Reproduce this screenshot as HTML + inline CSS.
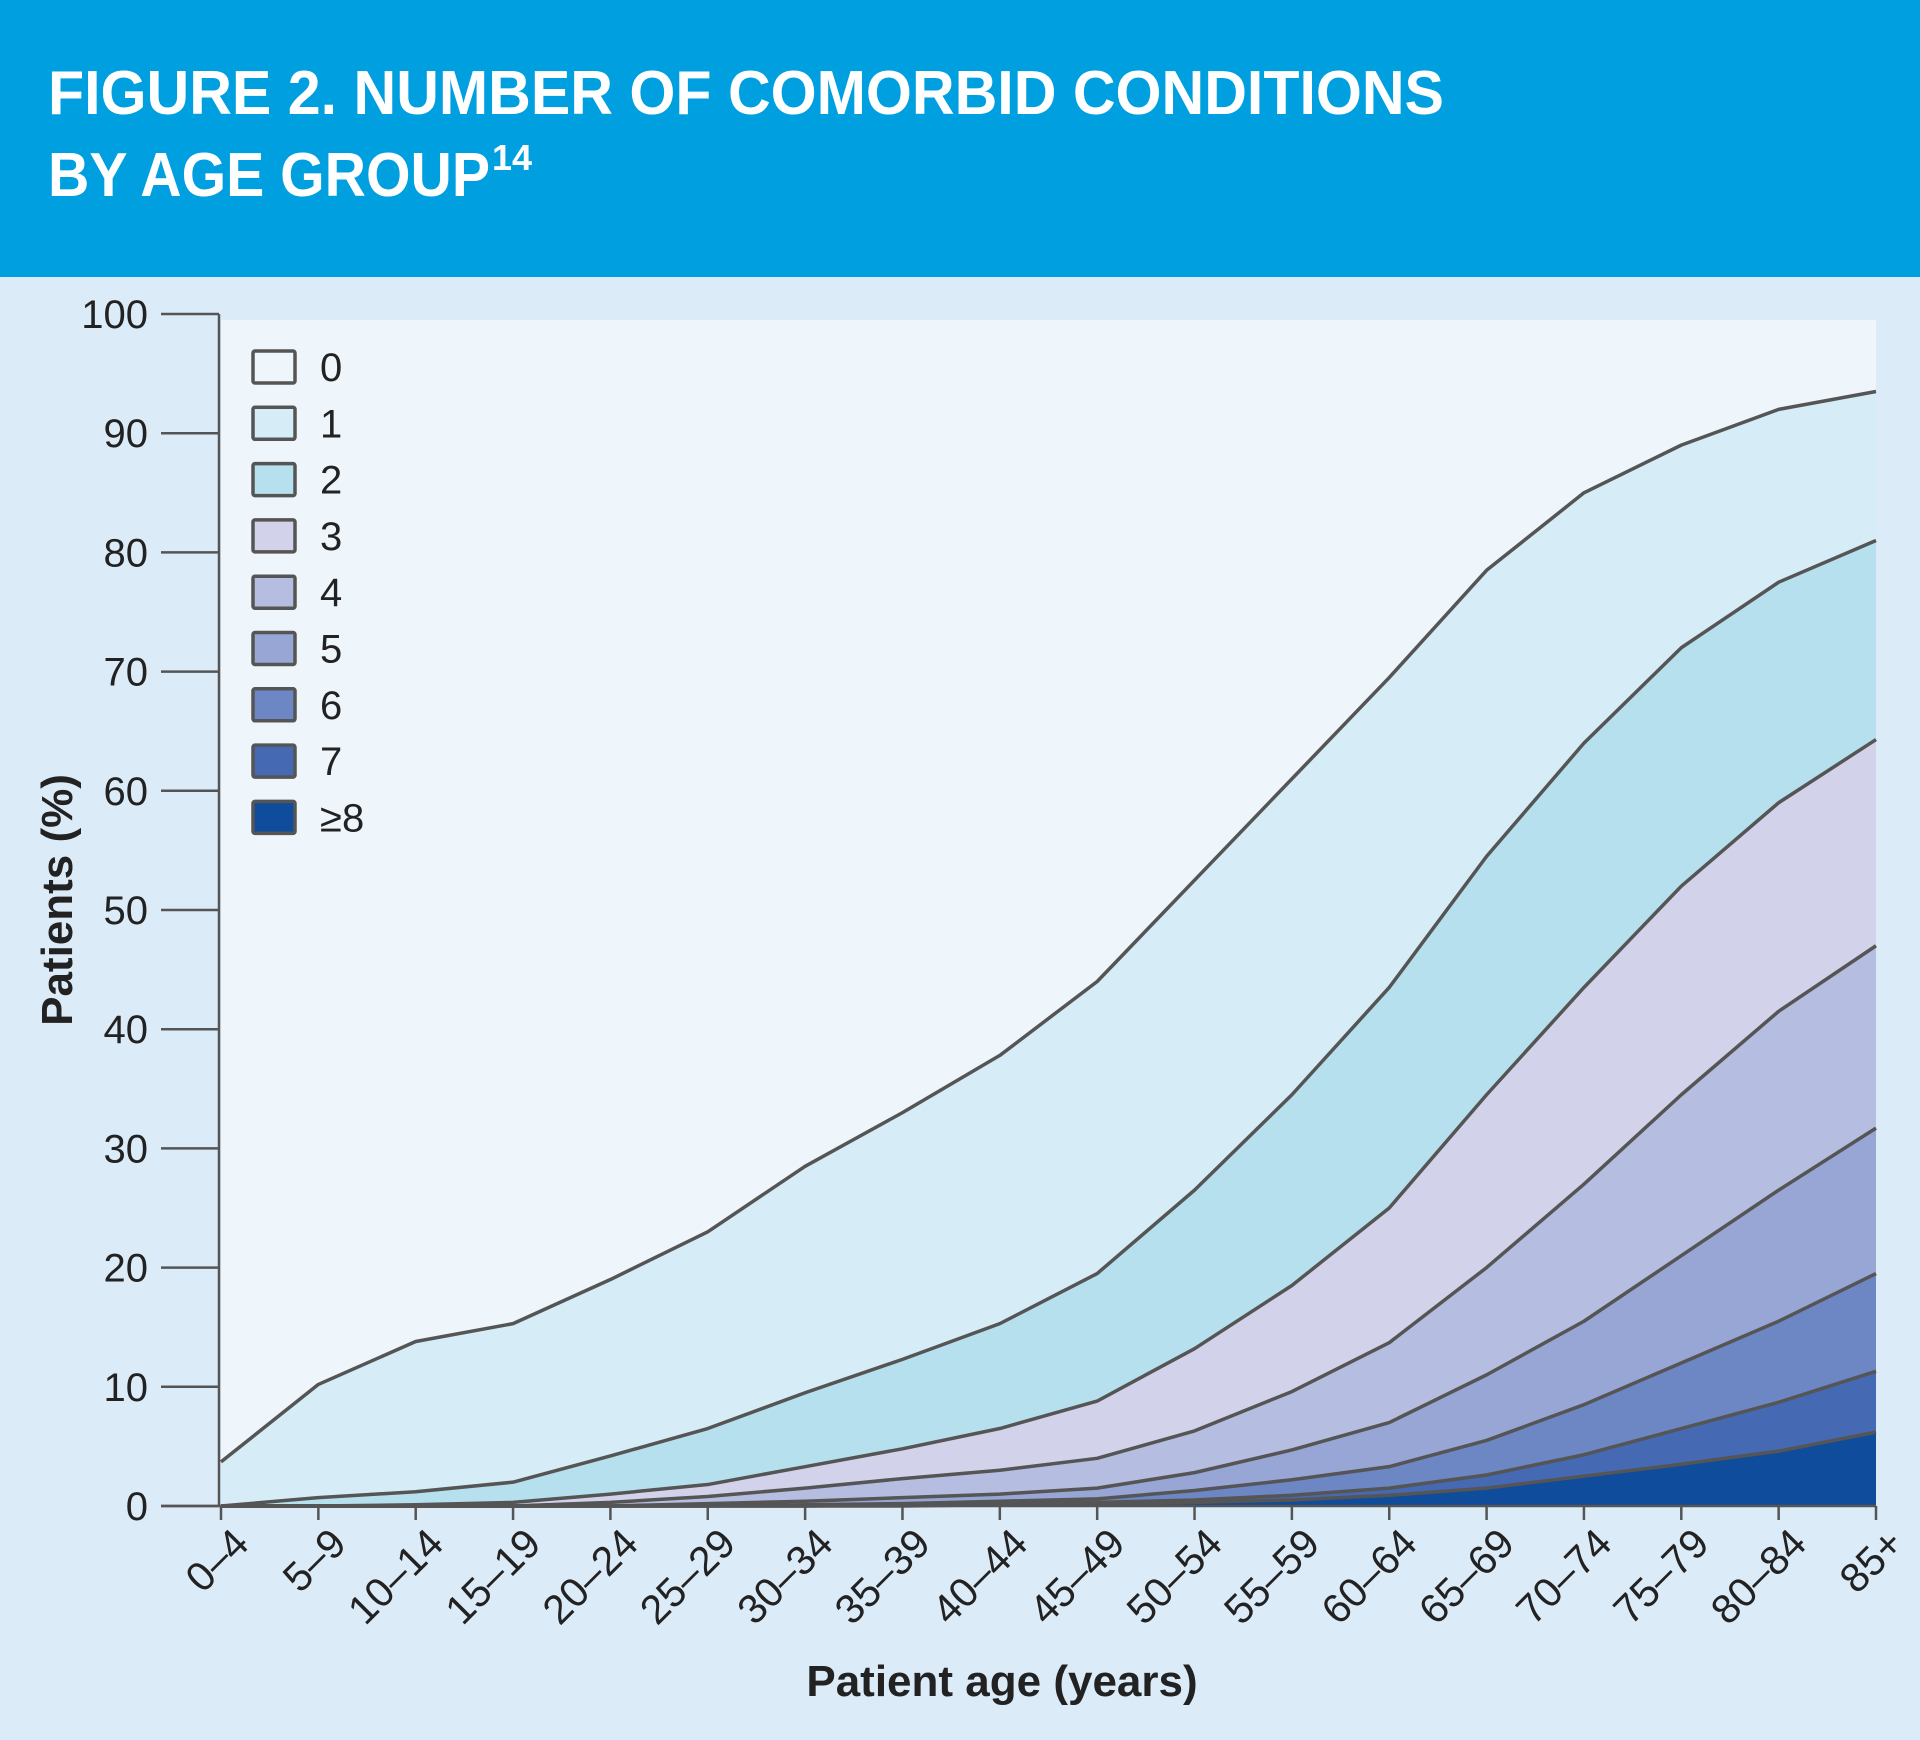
<!DOCTYPE html>
<html><head><meta charset="utf-8"><style>
html,body{margin:0;padding:0;background:#dcebf8}
svg{display:block;font-family:"Liberation Sans",sans-serif}
</style></head><body>
<svg id="chart" width="1920" height="1740" viewBox="0 0 1920 1740">
<rect x="0" y="0" width="1920" height="1740" fill="#dcebf8"/>
<rect x="0" y="0" width="1920" height="277" fill="#009fdf"/>
<text x="48" y="114" font-size="62" font-weight="bold" fill="#fff" textLength="1396" lengthAdjust="spacingAndGlyphs">FIGURE 2. NUMBER OF COMORBID CONDITIONS</text>
<text x="48" y="196" font-size="62" font-weight="bold" fill="#fff" textLength="442" lengthAdjust="spacingAndGlyphs">BY AGE GROUP</text>
<text x="492" y="170" font-size="36" font-weight="bold" fill="#fff">14</text>
<rect x="221" y="320" width="1655" height="1186" fill="#eef6fc"/>
<g id="bands"></g>
<g id="axes"></g>
<g id="legend"></g>
<text transform="translate(72,900) rotate(-90)" text-anchor="middle" font-size="44" font-weight="bold" fill="#222">Patients (%)</text>
<text x="1002" y="1696" text-anchor="middle" font-size="44" font-weight="bold" fill="#222">Patient age (years)</text>
</svg>
<script>
const categories = ["0–4","5–9","10–14","15–19","20–24","25–29","30–34","35–39","40–44","45–49","50–54","55–59","60–64","65–69","70–74","75–79","80–84","85+"];
// cumulative % of patients with at least k conditions
const atLeast1 = [3.7,10.2,13.8,15.3,19,23,28.5,33,37.8,44,52.5,61,69.5,78.5,85,89,92,93.5];
const atLeast2 = [0,0.7,1.2,2,4.2,6.5,9.5,12.3,15.3,19.5,26.5,34.5,43.5,54.5,64,72,77.5,81];
const atLeast3 = [0,0,0.1,0.3,1,1.8,3.3,4.8,6.5,8.8,13.2,18.5,25,34.5,43.5,52,59,64.3];
const atLeast4 = [0,0,0,0,0.3,0.8,1.5,2.3,3,4,6.3,9.6,13.7,20,27,34.5,41.5,47];
const atLeast5 = [0,0,0,0,0,0.2,0.4,0.7,1,1.5,2.8,4.7,7,11,15.5,21,26.5,31.7];
const atLeast6 = [0,0,0,0,0,0,0.1,0.2,0.4,0.6,1.3,2.2,3.3,5.5,8.5,12,15.5,19.5];
const atLeast7 = [0,0,0,0,0,0,0,0.1,0.2,0.3,0.5,0.9,1.5,2.6,4.3,6.5,8.7,11.3];
const atLeast8 = [0,0,0,0,0,0,0,0,0.1,0.1,0.3,0.5,0.9,1.5,2.5,3.5,4.6,6.2];
const yTicks = [0,10,20,30,40,50,60,70,80,90,100];
const legendLabels = ["0","1","2","3","4","5","6","7","≥8"];
const legendColors = ["#eef6fc","#d6ecf6","#b7e0ee","#d2d3ea","#b5bde0","#97a6d5","#6d86c4","#4569b2","#0f4c9b"];

const NS="http://www.w3.org/2000/svg";
const X0=221,X1=1876,Y0=1506,Y100=314;
const x=i=>X0+(X1-X0)*i/(categories.length-1);
const y=v=>Y0-(Y0-Y100)*v/100;
function mk(tag,attrs,parent){const e=document.createElementNS(NS,tag);for(const k in attrs)e.setAttribute(k,attrs[k]);parent.appendChild(e);return e;}
const series=[atLeast1,atLeast2,atLeast3,atLeast4,atLeast5,atLeast6,atLeast7,atLeast8];
const bands=document.getElementById('bands');
series.forEach((s,k)=>{
  let d="M"+x(0)+","+y(0);
  s.forEach((v,i)=>{d+=" L"+x(i)+","+y(v);});
  d+=" L"+x(s.length-1)+","+y(0)+" Z";
  const p=mk('path',{d:d,fill:legendColors[k+1]},bands);
  
  
  let ld="M"+s.map((v,i)=>x(i)+","+y(v)).join(" L");
  const l=mk('path',{d:ld,fill:"none",stroke:"#555",'stroke-width':3.5,'stroke-linejoin':'round'},bands);
  
  
});
const axes=document.getElementById('axes');
const yl=mk('line',{x1:219,y1:y(100),x2:219,y2:Y0,stroke:"#555",'stroke-width':2.5},axes);


const xl=mk('line',{x1:161,y1:Y0,x2:X1,y2:Y0,stroke:"#555",'stroke-width':2.5},axes);


yTicks.forEach(t=>{
  const tk=mk('line',{x1:161,y1:y(t),x2:219,y2:y(t),stroke:"#555",'stroke-width':2.5},axes);
  
  
  const tx=mk('text',{x:148,y:y(t)+14,'text-anchor':'end','font-size':40,fill:'#222'},axes);
  tx.textContent=t;
  
  
});
categories.forEach((c,i)=>{
  const tk=mk('line',{x1:x(i),y1:Y0,x2:x(i),y2:Y0+14,stroke:"#555",'stroke-width':2.5},axes);
  
  
  const tx=mk('text',{transform:"translate("+(x(i)+30)+","+(Y0+40)+") rotate(-45)",'text-anchor':'end','font-size':41,fill:'#222'},axes);
  tx.textContent=c;
  
  
});
const lg=document.getElementById('legend');
legendLabels.forEach((lab,i)=>{
  const cy=367+i*56.3;
  const r=mk('rect',{x:253,y:cy-16,width:42,height:32,fill:legendColors[i],stroke:'#555','stroke-width':3.5,rx:2},lg);
  
  
  const t=mk('text',{x:320,y:cy+14,'font-size':40,fill:'#222'},lg);
  t.textContent=lab;
  
  
});
</script>
</body></html>
